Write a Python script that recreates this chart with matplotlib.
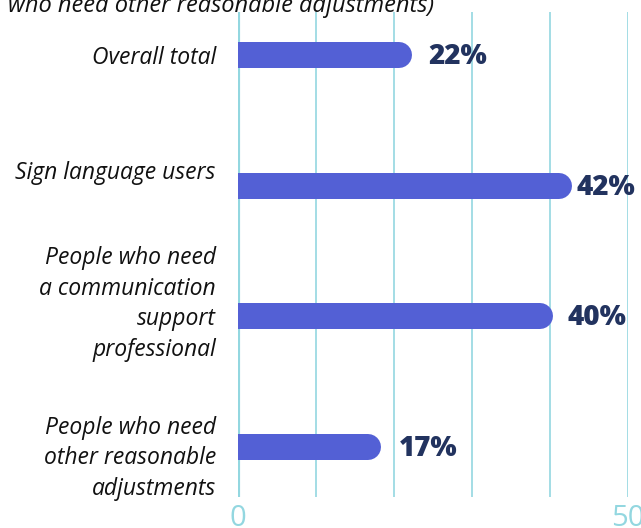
import matplotlib.pyplot as plt

categories = ["Overall total", "Sign language users",
              "People who need\na communication\nsupport\nprofessional",
              "People who need\nother reasonable\nadjustments"]
values = [22.3, 42.8, 40.4, 18.3]   # bar lengths
value_labels = ["22%", "42%", "40%", "17%"]
# vertical nudge of each category label (points, + is up)
label_offsets = [-2, 9, 9, -8]
# gap between bar end and its value label (points)
value_gaps = [12, 3, 10, 13]

bar_color = "#5360D5"
navy = "#22335F"
grid_color = "#93D7E0"

fig = plt.figure(figsize=(6.41, 5.28), dpi=100)
ax = fig.add_axes([238 / 641, 1 - 497 / 528, (628 - 238) / 641, (497 - 12) / 528])

ax.set_xlim(0, 50)
ax.set_ylim(3.383, -0.329)

# bar geometry in pixels -> data
px_per_unit_x = (628 - 238) / 50
bar_px = 26
bar_h = bar_px / 130.67
r = (bar_px / 2) / px_per_unit_x
lw_pt = bar_px * 72 / 100

for i, v in enumerate(values):
    ax.barh(i, v - r, height=bar_h, color=bar_color, zorder=3, linewidth=0)
    ax.plot([v - r - 0.5, v - r], [i, i], color=bar_color, lw=lw_pt,
            solid_capstyle="round", zorder=3)
    ax.annotate(value_labels[i], xy=(v, i), xytext=(value_gaps[i], -1),
                textcoords="offset points", va="center", ha="left", fontsize=20,
                fontweight="heavy", color=navy, family="Open Sans", zorder=4)

for i, lab in enumerate(categories):
    ax.annotate(lab, xy=(0, i), xytext=(-16, label_offsets[i]), textcoords="offset points",
                ha="right", va="center", fontsize=16.5, fontstyle="italic", color="#111111",
                family="Open Sans", linespacing=1.36, annotation_clip=False)

ax.set_xticks([0, 10, 20, 30, 40, 50])
ax.set_xticklabels(["0", "", "", "", "", "50"])
ax.tick_params(axis="x", length=0, pad=5, labelsize=21, labelcolor=grid_color)
for lbl in ax.get_xticklabels():
    lbl.set_family("Open Sans")
ax.set_yticks([])
ax.grid(axis="x", color=grid_color, lw=1.2, zorder=0)
ax.axvline(0, color=grid_color, lw=3, zorder=2)
for s in ax.spines.values():
    s.set_visible(False)

fig.text(8 / 641, 1 - 12 / 528, "who need other reasonable adjustments)",
         ha="left", va="baseline", fontsize=17, fontstyle="italic", color="#111111",
         family="Open Sans")

fig.savefig("out.png", dpi=100)
